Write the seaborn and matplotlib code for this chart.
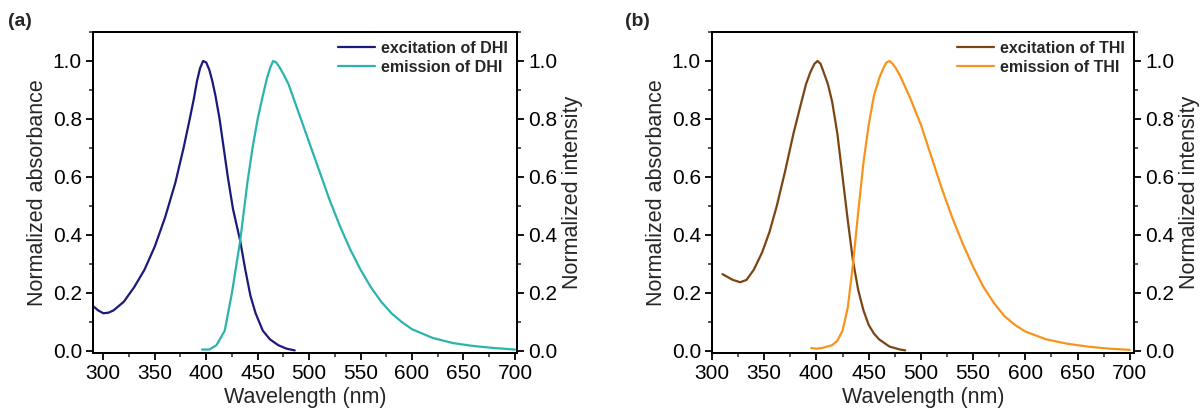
import matplotlib
matplotlib.use("Agg")
import matplotlib.pyplot as plt
from matplotlib.ticker import MultipleLocator
import seaborn as sns
import pandas as pd

# ---- spectra (normalized) ----
dhi_exc_wl = [290, 295, 300, 305, 310, 320, 330, 340, 350, 360, 370, 378, 384, 388, 391, 394, 397,
              400, 403, 406, 409, 413, 417, 421, 426, 433, 438, 443, 448, 455, 462, 470, 478, 486]
dhi_exc = [0.155, 0.14, 0.13, 0.132, 0.14, 0.17, 0.22, 0.28, 0.36, 0.46, 0.58, 0.70, 0.80, 0.87, 0.93, 0.975, 1.0,
           0.995, 0.97, 0.93, 0.88, 0.80, 0.70, 0.60, 0.49, 0.38, 0.28, 0.19, 0.13, 0.07, 0.04, 0.02, 0.008, 0.002]

dhi_em_wl = [396, 403, 410, 418, 425, 433, 440, 445, 450, 455, 459, 462, 465, 468, 471, 475, 480, 490, 500,
             510, 520, 530, 540, 550, 560, 570, 580, 590, 600, 620, 640, 660, 680, 700]
dhi_em = [0.005, 0.005, 0.02, 0.07, 0.2, 0.38, 0.58, 0.70, 0.80, 0.88, 0.94, 0.975, 1.0, 0.995, 0.98, 0.955, 0.92,
          0.82, 0.72, 0.62, 0.52, 0.43, 0.35, 0.28, 0.22, 0.17, 0.13, 0.10, 0.075, 0.045, 0.027, 0.017, 0.01, 0.005]

thi_exc_wl = [310, 315, 320, 327, 333, 340, 348, 355, 362, 370, 378, 385, 390, 394, 398, 401,
              404, 407, 411, 415, 420, 425, 430, 435, 440, 445, 450, 455, 460, 470, 480, 485]
thi_exc = [0.265, 0.255, 0.245, 0.237, 0.245, 0.28, 0.34, 0.41, 0.50, 0.62, 0.75, 0.85, 0.92, 0.96, 0.99, 1.0,
           0.99, 0.96, 0.92, 0.86, 0.75, 0.60, 0.45, 0.31, 0.21, 0.14, 0.09, 0.06, 0.04, 0.015, 0.005, 0.002]

thi_em_wl = [395, 400, 405, 410, 415, 420, 425, 430, 435, 440, 445, 450, 455, 460, 464, 467, 470, 473, 476, 480,
             490, 500, 510, 520, 530, 540, 550, 560, 570, 580, 590, 600, 620, 640, 660, 680, 700]
thi_em = [0.01, 0.008, 0.01, 0.015, 0.02, 0.035, 0.07, 0.15, 0.30, 0.48, 0.65, 0.78, 0.88, 0.94, 0.975, 0.995, 1.0,
          0.99, 0.975, 0.95, 0.87, 0.78, 0.67, 0.56, 0.46, 0.37, 0.29, 0.22, 0.165, 0.12, 0.09, 0.067, 0.04, 0.025,
          0.015, 0.008, 0.004]

x_ticks = [300, 350, 400, 450, 500, 550, 600, 650, 700]
y_ticks = [0.0, 0.2, 0.4, 0.6, 0.8, 1.0]

sns.set_style("ticks")
plt.rcParams["font.family"] = ["Liberation Sans", "DejaVu Sans"]

W, H = 1202, 416
fig = plt.figure(figsize=(W / 100, H / 100), dpi=100)


def style_axis(ax):
    for s in ax.spines.values():
        s.set_linewidth(1.4)
        s.set_color("black")
    ax.tick_params(which="major", direction="out", length=5, width=1.3, labelsize=15, colors="black", pad=3)
    ax.tick_params(which="minor", direction="out", length=3, width=1.1)


def panel(rect, tag, tag_pos, exc_wl, exc, em_wl, em, name, c_exc, c_em, xlim):
    ax = fig.add_axes(rect)
    d_exc = pd.DataFrame({"wl": exc_wl, "val": exc})
    d_em = pd.DataFrame({"wl": em_wl, "val": em})
    sns.lineplot(data=d_exc, x="wl", y="val", ax=ax, color=c_exc, lw=1.6,
                 label=f"excitation of {name}", sort=False)
    sns.lineplot(data=d_em, x="wl", y="val", ax=ax, color=c_em, lw=1.6,
                 label=f"emission of {name}", sort=False)
    ax.set_xlim(*xlim)
    ax.set_ylim(-0.007, 1.1)
    ax.set_xticks(x_ticks)
    ax.set_yticks(y_ticks)
    ax.set_yticklabels([f"{v:.1f}" for v in y_ticks])
    ax.xaxis.set_minor_locator(MultipleLocator(25))
    ax.yaxis.set_minor_locator(MultipleLocator(0.1))
    ax.set_xlabel("Wavelength (nm)", fontsize=15.5, labelpad=3)
    ax.set_ylabel("Normalized absorbance", fontsize=15.5, labelpad=3)
    style_axis(ax)
    ax.tick_params(top=False, which="both")

    ax.legend(loc="upper right", frameon=False, prop={"weight": "bold", "size": 11.5},
              handlelength=2.3, handletextpad=0.4, borderaxespad=0.15, labelspacing=0.25)

    ax2 = ax.twinx()
    ax2.set_ylim(ax.get_ylim())
    ax2.set_yticks(y_ticks)
    ax2.set_yticklabels([f"{v:.1f}" for v in y_ticks])
    ax2.yaxis.set_minor_locator(MultipleLocator(0.1))
    ax2.set_ylabel("Normalized intensity", fontsize=15.5, labelpad=3)
    style_axis(ax2)

    fig.text(tag_pos[0], tag_pos[1], tag, fontsize=14, fontweight="bold", ha="left", va="center")
    return ax


panel([93 / W, 63 / H, 424 / W, 321 / H], "(a)", (8 / W, 1 - 22 / H),
      dhi_exc_wl, dhi_exc, dhi_em_wl, dhi_em, "DHI", "#1b1a7a", "#2bb3ad", (290, 702))
panel([712 / W, 63 / H, 422 / W, 321 / H], "(b)", (625 / W, 1 - 22 / H),
      thi_exc_wl, thi_exc, thi_em_wl, thi_em, "THI", "#7b4513", "#f7941d", (300, 704))

fig.savefig("out.png", dpi=100)
